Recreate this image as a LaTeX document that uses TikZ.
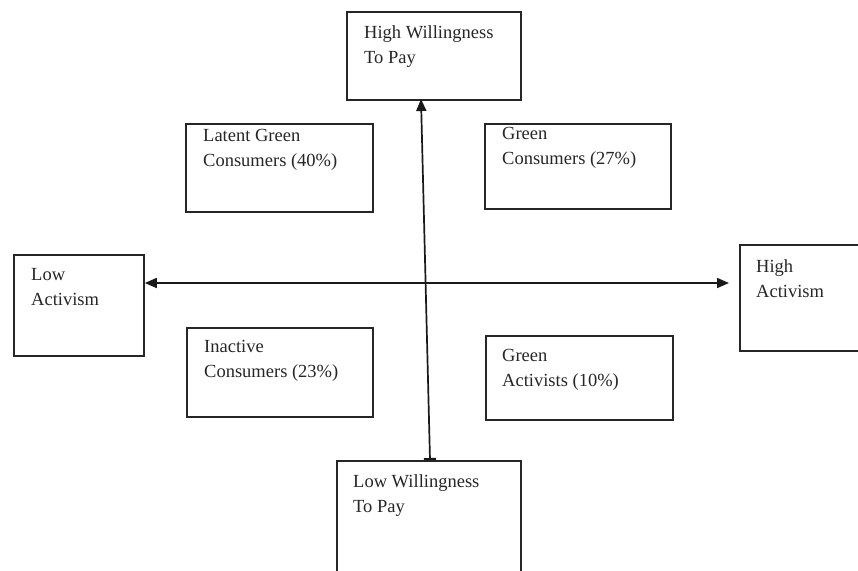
\documentclass[tikz,border=0pt]{standalone}
\usepackage{fontspec}
\setmainfont{Liberation Serif}
\usetikzlibrary{arrows.meta}
\begin{document}
\begin{tikzpicture}[x=1pt,y=-1pt,
  box/.style={draw=black!85, line width=1.8pt, rectangle, inner sep=0pt, anchor=north west},
  lbl/.style={anchor=base west, inner sep=0pt, align=left, font=\fontsize{18.5}{25}\selectfont, text=black!85},
  axis/.style={line width=1.7pt, draw=black!90}]
\clip (0,0) rectangle (858,570);
% boxes
\node[box, minimum width=174pt, minimum height=88pt] (top) at (346,11) {};
\node[box, minimum width=130pt, minimum height=101pt] (left) at (13,254) {};
\node[box, minimum width=130pt, minimum height=106pt] (right) at (739,244) {};
\node[box, minimum width=184pt, minimum height=125pt] (bot) at (336,460) {};
\node[box, minimum width=187pt, minimum height=88pt] (latent) at (185,123) {};
\node[box, minimum width=186pt, minimum height=85pt] (gcons) at (484,123) {};
\node[box, minimum width=186pt, minimum height=89pt] (inact) at (186,327) {};
\node[box, minimum width=187pt, minimum height=84pt] (gact) at (485,335) {};
% texts (anchor = baseline of the second line)
\node[lbl] (topt) at (364,63) {High Willingness\\To Pay};
\node[lbl] (leftt) at (31,305) {Low\\Activism};
\node[lbl] (rightt) at (756,297) {High\\Activism};
\node[lbl] (bott) at (353,512) {Low Willingness\\To Pay};
\node[lbl] (latentt) at (203,166) {Latent Green\\Consumers (40\%)};
\node[lbl] (gconst) at (502,164) {Green\\Consumers (27\%)};
\node[lbl] (inactt) at (204,377) {Inactive\\Consumers (23\%)};
\node[lbl] (gactt) at (502,386) {Green\\Activists (10\%)};
% axes
\coordinate (hl) at (left.east |- 0,283);
\coordinate (hr) at (729,283);
\coordinate (vt) at (421,99);
\coordinate (vb) at (430,460);
\draw[axis, {Triangle[length=12pt,width=10pt]}-{Triangle[length=12pt,width=10pt]}] (hl) -- (hr);
\draw[axis, {Bar[width=12pt,line width=2pt]}-{Triangle[length=12pt,width=10pt]}] (vb) -- (vt);
\end{tikzpicture}
\end{document}
